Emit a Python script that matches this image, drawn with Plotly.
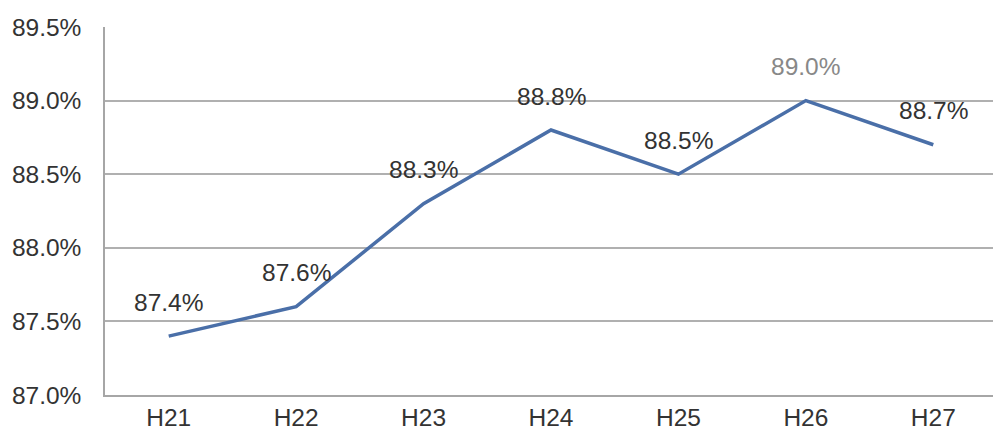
import plotly.graph_objects as go

categories = ["H21", "H22", "H23", "H24", "H25", "H26", "H27"]
values = [87.4, 87.6, 88.3, 88.8, 88.5, 89.0, 88.7]
labels = ["87.4%", "87.6%", "88.3%", "88.8%", "88.5%", "89.0%", "88.7%"]
label_colors = ["#333333", "#333333", "#333333", "#333333", "#333333", "#888888", "#333333"]
y_ticks = [87.0, 87.5, 88.0, 88.5, 89.0, 89.5]
y_ticktext = ["87.0%", "87.5%", "88.0%", "88.5%", "89.0%", "89.5%"]

FONT = "Liberation Sans, Arial, sans-serif"

fig = go.Figure()
fig.add_trace(go.Scatter(
    x=categories, y=values, mode="lines",
    line=dict(color="#4A6FA8", width=3.5),
    hoverinfo="skip", showlegend=False,
))

for c, v, t, col in zip(categories, values, labels, label_colors):
    fig.add_annotation(x=c, y=v, text=t, showarrow=False, yshift=34,
                       font=dict(size=24.5, color=col, family=FONT))

# page body has an 8px margin: figure is sized/offset to compensate
fig.update_layout(
    width=993, height=427,
    margin=dict(l=97, r=4, t=19, b=40),
    paper_bgcolor="white", plot_bgcolor="white",
    font=dict(family=FONT, size=24.5, color="#333333"),
    xaxis=dict(
        type="category", showgrid=False, showline=True, linecolor="#A6A6A6", linewidth=1.5,
        ticks="", tickfont=dict(size=24.5, color="#333333"), range=[-0.5, 6.5],
        automargin=False, ticklabelstandoff=0,
    ),
    yaxis=dict(
        range=[87.0, 89.5], tickvals=y_ticks, ticktext=y_ticktext,
        showgrid=True, gridcolor="#B0B0B0", gridwidth=1.5,
        showline=True, linecolor="#A6A6A6", linewidth=1.5, zeroline=False,
        ticks="", ticklabelstandoff=17, tickfont=dict(size=24.5, color="#333333"),
        automargin=False,
    ),
)

fig.write_html("out.html")
